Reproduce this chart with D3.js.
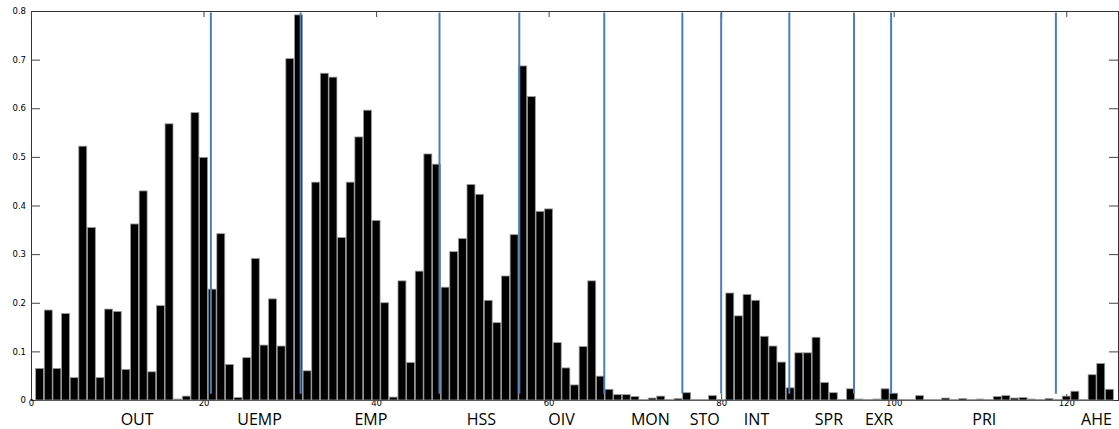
<!DOCTYPE html>
<html>
<head>
<meta charset="utf-8">
<script src="https://cdn.jsdelivr.net/npm/d3@7"></script>
<style>
  body { margin: 0; background: #fff; }
  .tick text { font-family: "DejaVu Sans", Arial, sans-serif; font-size: 8.5px; fill: #000; }
  .group-label { font-family: "Open Sans", sans-serif; font-size: 16px; fill: #000; }
</style>
</head>
<body>
<div id="chart"></div>
<script>
/* Bar chart of 125 variables split into groups by blue separator lines */

// bar heights, variable 1..125
const values = [
  0.065, 0.185, 0.065, 0.178, 0.046, 0.522, 0.355, 0.046, 0.187, 0.182,
  0.063, 0.362, 0.430, 0.058, 0.194, 0.568, 0.002, 0.008, 0.591, 0.499,
  0.228, 0.342, 0.073, 0.005, 0.087, 0.291, 0.113, 0.208, 0.111, 0.702,
  0.792, 0.060, 0.448, 0.672, 0.664, 0.334, 0.448, 0.541, 0.596, 0.369,
  0.200, 0.006, 0.245, 0.077, 0.265, 0.506, 0.485, 0.232, 0.305, 0.332,
  0.443, 0.423, 0.205, 0.159, 0.255, 0.340, 0.687, 0.624, 0.388, 0.393,
  0.118, 0.066, 0.031, 0.110, 0.245, 0.049, 0.022, 0.011, 0.011, 0.007,
  0.001, 0.004, 0.008, 0.001, 0.003, 0.015, 0.001, 0.001, 0.009, 0.001,
  0.220, 0.173, 0.217, 0.205, 0.131, 0.111, 0.078, 0.025, 0.097, 0.097,
  0.129, 0.036, 0.015, 0.001, 0.023, 0.002, 0.001, 0.002, 0.023, 0.014,
  0.001, 0.001, 0.009, 0.001, 0.001, 0.004, 0.001, 0.003, 0.001, 0.002,
  0.001, 0.007, 0.009, 0.004, 0.005, 0.002, 0.001, 0.003, 0.001, 0.008,
  0.018, 0.001, 0.052, 0.075, 0.022
];

// group names and where their labels sit (x units)
const groups = ["OUT", "UEMP", "EMP", "HSS", "OIV", "MON", "STO", "INT", "SPR", "EXR", "PRI", "AHE"];
const groupPos = [12.3, 26.5, 39.4, 52.2, 61.5, 71.8, 78.1, 84.1, 92.5, 98.3, 110.5, 123.5];

// blue separators between groups (x units)
const separators = [20.85, 31.25, 47.35, 56.6, 66.45, 75.5, 80.0, 87.9, 95.4, 99.7, 118.8];

const xTicks = [0, 20, 40, 60, 80, 100, 120];
const yTicks = [0, 0.1, 0.2, 0.3, 0.4, 0.5, 0.6, 0.7, 0.8];

const W = 1119, H = 429;
const margin = { top: 11, bottom: 29, left: 31, right: 1 };

const svg = d3
  .select("#chart")
  .append("svg")
  .attr("width", W)
  .attr("height", H);

const x = d3.scaleLinear().domain([0, 126]).range([margin.left, W - margin.right]);
const y = d3.scaleLinear().domain([0, 0.8]).range([H - margin.bottom, margin.top]);

const fmt = (d) => (d === 0 ? "0" : d3.format(".1f")(d));

// axes, ticks pointing inward like matlab
svg
  .append("g")
  .attr("class", "y-left")
  .attr("transform", `translate(${margin.left},0)`)
  .call(d3.axisLeft(y).tickValues(yTicks).tickSize(-9).tickPadding(5).tickFormat(fmt));

svg
  .append("g")
  .attr("transform", `translate(${W - margin.right},0)`)
  .call(d3.axisRight(y).tickValues(yTicks).tickSize(-9).tickFormat(""));

svg
  .append("g")
  .attr("class", "x-bottom")
  .attr("transform", `translate(0,${H - margin.bottom})`)
  .call(d3.axisBottom(x).tickValues(xTicks).tickSize(-6).tickPadding(1));

svg
  .append("g")
  .attr("transform", `translate(0,${margin.top})`)
  .call(d3.axisTop(x).tickValues(xTicks).tickSize(-6).tickFormat(""));

svg.selectAll(".domain").attr("stroke", "#333");
svg.selectAll(".tick line").attr("stroke", "#444");
svg.selectAll(".x-bottom .tick text").attr("dy", "0.6em");

// bars
const bw = 0.92;
svg
  .append("g")
  .selectAll("rect")
  .data(values)
  .enter()
  .append("rect")
  .attr("x", (d, i) => x(i + 1 - bw / 2))
  .attr("width", x(bw) - x(0))
  .attr("y", (d) => y(d))
  .attr("height", (d) => y(0) - y(d))
  .attr("fill", "#000")
  .attr("stroke", "#9a9a9a")
  .attr("stroke-width", 0.8);

// separators
svg
  .append("g")
  .selectAll("line")
  .data(separators)
  .enter()
  .append("line")
  .attr("x1", (d) => x(d))
  .attr("x2", (d) => x(d))
  .attr("y1", y(0.797))
  .attr("y2", y(0.013))
  .attr("stroke", "#4a7ebb")
  .attr("stroke-width", 2);

// group labels
svg
  .append("g")
  .selectAll("text")
  .data(groups)
  .enter()
  .append("text")
  .attr("class", "group-label")
  .attr("x", (d, i) => x(groupPos[i]))
  .attr("y", 425)
  .attr("text-anchor", "middle")
  .text((d) => d);
</script>
</body>
</html>
